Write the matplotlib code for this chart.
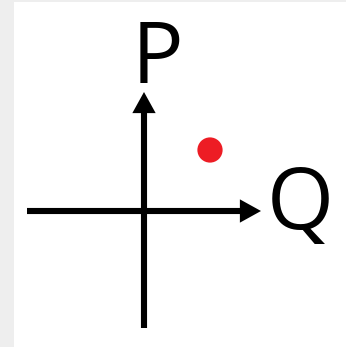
import matplotlib.pyplot as plt
from matplotlib.patches import Rectangle

# diagram values, in pixel-sized units with the origin where the axes cross
X_AXIS = [-117, 117]   # horizontal arrow: start, tip
Y_AXIS = [-117, 119]   # vertical arrow: start, tip
POINT_X = [66]
POINT_Y = [61]
LABELS = ["P", "Q"]
LABEL_X = [13.5, 156.5]
LABEL_Y = [128, -18]

WIDTH, HEIGHT = 346, 347
ORIGIN = (144, 211)


def main():
    figure = plt.figure(figsize=(WIDTH / 100, HEIGHT / 100), dpi=100,
                        facecolor="#EEEEEE")
    axis = figure.add_axes([0, 0, 1, 1])
    axis.set_xlim(-ORIGIN[0], WIDTH - ORIGIN[0])
    axis.set_ylim(ORIGIN[1] - HEIGHT, ORIGIN[1])
    axis.axis("off")

    # white panel, leaving a thin grey frame at the left and top
    axis.add_patch(Rectangle((14 - ORIGIN[0], ORIGIN[1] - HEIGHT),
                             WIDTH - 14, HEIGHT - 2,
                             facecolor="white", edgecolor="none", zorder=0))

    arrow = dict(arrowstyle="simple,head_length=0.76,head_width=0.84,tail_width=0.22",
                 mutation_scale=20, facecolor="black", edgecolor="none",
                 lw=0, shrinkA=0, shrinkB=0)
    axis.annotate("", xy=(X_AXIS[1], 0), xytext=(X_AXIS[0], 0),
                  arrowprops=arrow, zorder=2)
    axis.annotate("", xy=(0, Y_AXIS[1]), xytext=(0, Y_AXIS[0]),
                  arrowprops=arrow, zorder=2)

    axis.scatter(POINT_X, POINT_Y, s=330, color="#ED1C24",
                 edgecolors="none", zorder=3)

    for label, x, y in zip(LABELS, LABEL_X, LABEL_Y):
        axis.text(x, y, label, ha="center", va="baseline",
                  fontsize=62, family="Open Sans", color="black")

    figure.savefig("out.png", dpi=100, facecolor=figure.get_facecolor())
    plt.close(figure)


if __name__ == "__main__":
    main()
